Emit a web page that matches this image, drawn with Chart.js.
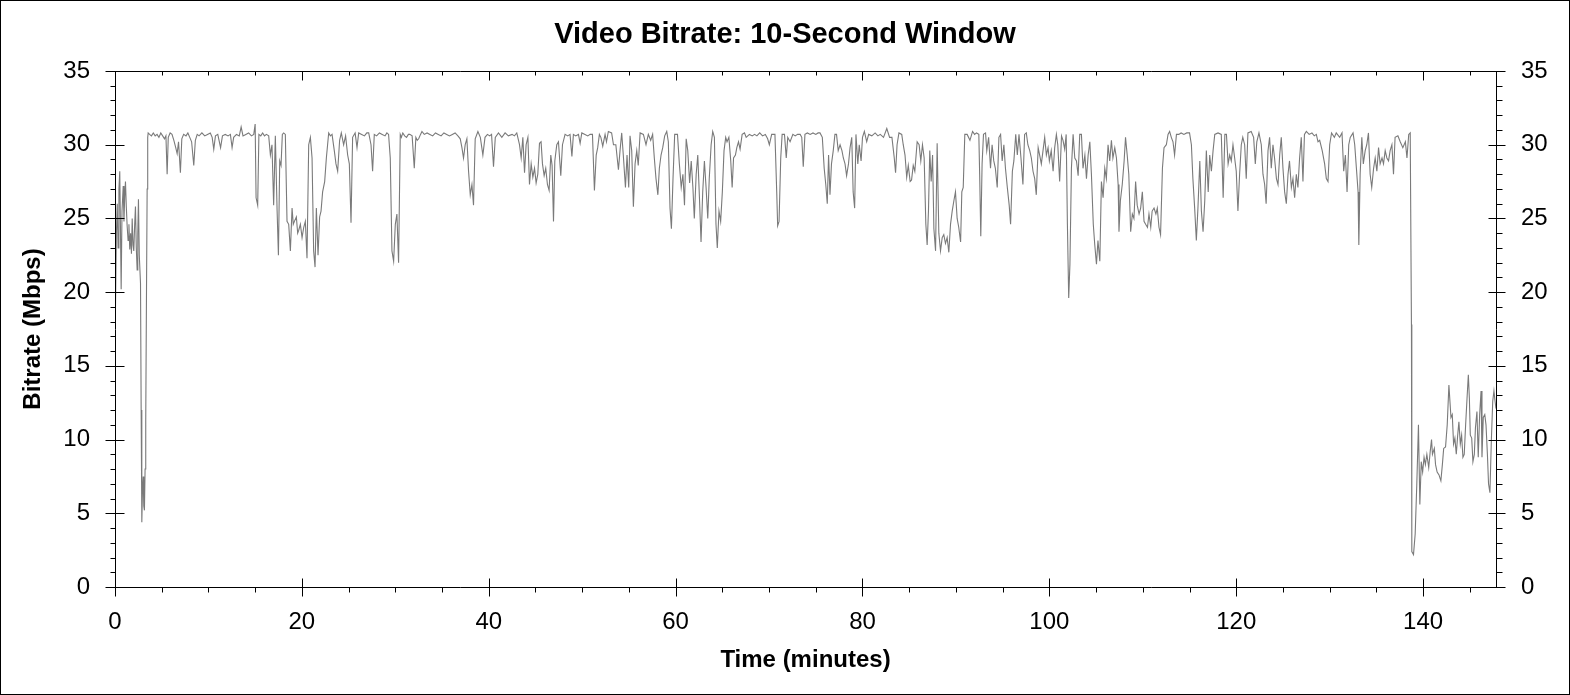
<!DOCTYPE html>
<html>
<head>
<meta charset="utf-8">
<script src="https://cdn.jsdelivr.net/npm/chart.js@4.4.1/dist/chart.umd.min.js"></script>
<style>
  html, body { margin: 0; padding: 0; background: #fff; }
  #c { display: block; }
</style>
</head>
<body>
<canvas id="c" width="1570" height="695" style="width:1570px;height:695px"></canvas>
<script>
// ---- Data (minutes, Mbps) ----
const tA = [0.00,0.05,0.15,0.24,0.33,0.42,0.51,0.58,0.66,0.75,
  0.88,0.96,1.04,1.12,1.21,1.30,1.40,1.49,1.58,1.67,
  1.76,1.84,1.93,2.01,2.10,2.19,2.28,2.37,2.44,2.51,
  2.60,2.73,2.80,2.87,2.94,3.02,3.08,3.15,3.22,3.29,
  3.37,3.44,3.50,3.55];
const vA = [19.5,18.9,24.0,26.0,23.0,27.0,28.2,24.5,20.2,25.5,
  27.2,24.8,26.5,27.5,25.8,24.5,23.5,24.6,22.9,24.0,
  22.6,25.0,23.2,22.8,24.5,25.8,23.0,21.5,24.0,26.3,
  22.5,20.6,12.0,4.4,6.5,7.5,5.5,5.2,8.0,11.3,
  20.0,27.0,30.5,30.8];

const tA2 = [3.7,3.9,4.1,4.3,4.5,4.7,4.9,5.1,5.3,5.45,
  5.58,5.7,5.9,6.1,6.3,6.5,6.65,6.8,7.0,7.15,
  7.35,7.6,7.8,8.0,8.2,8.43,8.6,8.8,9.0,9.3,
  9.6,9.9,10.2,10.4,10.57,10.75,11.0,11.3,11.5,11.8,
  12.1,12.35,12.53,12.7,13.0,13.3,13.5,13.7,14.0,14.3,
  14.6,14.85,15.0,15.1,15.27,15.4,15.6,15.8,16.0,16.2,
  16.45];
const vA2 = [30.7,30.6,30.8,30.6,30.7,30.5,30.8,30.6,30.4,30.6,
  28.0,30.5,30.8,30.7,30.3,29.8,29.4,30.2,28.1,30.4,
  30.7,30.6,30.8,30.5,30.2,28.6,30.3,30.7,30.6,30.8,
  30.6,30.7,30.8,30.5,29.7,30.6,30.7,29.8,30.6,30.7,
  30.6,30.7,29.8,30.5,30.7,30.6,31.2,30.6,30.7,30.8,
  30.6,30.7,31.4,26.4,25.9,30.7,30.6,30.8,30.6,30.7,
  30.6];

const tB = [16.63,16.8,16.98,17.16,17.35,17.49,17.63,17.77,17.91,18.05,
  18.23,18.41,18.59,18.77,18.95,19.08,19.2,19.41,19.55,19.66,
  19.84,20.02,20.2,20.37,20.55,20.73,20.91,21.09,21.26,21.41,
  21.55,21.73,21.9,22.05,22.22,22.44,22.62,22.87,23.05,23.23,
  23.47,23.65,23.83,24.04,24.22,24.47,24.68,24.9,25.08,25.26,
  25.43,25.7,25.9,26.08,26.4,26.7,26.95,27.15,27.4,27.57,
  27.75,28.0,28.3,28.6,28.9,29.1,29.28,29.46,29.64,29.82,
  30.0,30.17,30.35,30.53,30.65,30.8,31.0,31.2,31.4,31.55,
  31.8,32.03,32.2,32.35,32.5,32.7,32.85,33.1,33.4,33.7,
  34.0,34.3,34.6,34.9,35.2,35.5,35.8,36.1,36.4,36.7];
const vB = [29.3,30.0,25.9,30.6,25.5,22.5,28.9,28.6,30.7,30.8,
  30.7,24.8,24.6,22.8,25.7,24.6,24.8,25.1,24.0,24.2,
  24.6,23.7,24.4,24.8,22.3,30.0,30.5,29.1,22.8,21.7,
  25.7,22.5,25.1,25.5,26.8,27.5,29.1,30.8,30.6,30.7,
  29.6,28.7,28.2,30.3,30.8,30.0,30.6,29.3,28.7,24.7,
  30.5,30.8,29.8,30.8,30.7,30.6,30.8,30.8,30.0,28.2,
  30.7,30.6,30.8,30.7,30.6,30.8,30.7,29.1,22.8,22.1,
  24.6,25.3,22.0,30.7,30.5,30.8,30.6,30.5,30.7,30.7,
  30.6,28.4,30.5,30.3,30.4,30.7,30.9,30.7,30.8,30.7,
  30.6,30.8,30.7,30.6,30.8,30.7,30.6,30.7,30.8,30.6];

const tC = [36.95,37.13,37.3,37.48,37.66,37.84,38.02,38.2,38.37,38.55,
  38.84,39.1,39.37,39.6,39.86,40.1,40.3,40.51,40.7,41.04,
  41.4,41.75,42.1,42.5,42.75,43.0,43.29,43.47,43.65,43.83,
  44.0,44.19,44.36,44.54,44.72,44.9,45.07,45.25,45.43,45.6,
  45.75,45.93,46.1,46.28,46.46,46.64,46.78,46.93,47.07,47.28,
  47.46,47.71,47.89,48.17,48.45,48.7,48.9,49.06,49.3,49.6,
  49.78,49.96,50.3,50.6,50.85,51.1,51.31];
const vC = [30.4,29.8,29.1,30.0,30.4,28.2,26.6,27.3,25.9,30.4,
  30.9,30.5,29.3,30.5,30.7,30.6,30.7,28.5,30.5,30.8,
  30.5,30.8,30.6,30.7,30.6,30.8,30.0,29.1,30.5,28.1,
  30.0,30.5,27.3,28.7,27.8,28.4,27.4,28.0,30.1,30.2,
  28.7,27.9,28.4,27.3,26.9,29.3,28.6,24.8,28.9,30.0,
  30.2,27.9,30.0,30.7,30.6,30.7,29.2,30.7,30.6,30.7,
  30.1,30.8,30.7,30.6,30.7,30.7,26.9];

const tD = [51.5,51.66,51.84,52.0,52.2,52.45,52.6,52.8,53.15,53.35,
  53.6,53.88,54.05,54.23,54.4,54.63,54.8,54.98,55.12,55.3,
  55.48,55.66,55.84,56.0,56.2,56.55,56.83,57.08,57.33,57.54,
  57.72,57.9,58.1,58.26,58.44,58.62,58.83,59.05,59.22,59.4,
  59.55,59.72,59.9,60.2,60.4,60.6,60.78,60.95,61.13,61.3,
  61.5,61.67,61.85,62.0,62.2,62.37,62.55,62.72,62.9,63.08,
  63.26,63.44,63.6,63.8,63.97,64.15,64.32,64.46,64.64,64.82,
  65.0,65.18,65.36,65.5,65.7,65.9,66.05,66.2,66.4,66.55,
  66.73,66.9,67.12,67.37,67.55,67.9,68.2,68.45,68.7,69.0,
  69.3,69.6,69.85];
const vD = [29.3,29.8,30.7,30.5,29.9,30.7,30.2,30.9,30.8,30.0,
  30.0,28.3,29.6,30.8,29.3,27.1,29.3,27.1,30.6,29.6,
  25.8,28.7,29.6,28.6,30.8,30.7,30.0,30.7,30.3,30.7,
  29.1,27.7,26.6,28.4,29.3,29.8,30.6,30.9,30.2,25.7,
  24.3,27.7,30.7,30.7,28.7,27.1,28.0,25.9,30.4,29.6,
  27.4,28.9,27.1,25.0,28.0,29.3,26.4,23.4,26.8,28.9,
  27.1,25.0,27.7,30.0,30.9,30.5,24.6,23.0,25.5,24.8,
  26.8,29.6,30.5,30.2,30.5,28.9,27.1,29.1,29.3,29.8,
  30.2,29.7,30.7,30.8,30.5,30.7,30.6,30.7,30.6,30.8,
  30.6,30.7,30.4];

const tE = [70.03,70.28,70.63,70.82,70.92,71.07,71.25,71.4,71.65,71.84,
  72.0,72.25,72.55,72.8,73.05,73.33,73.5,73.66,73.84,74.1,
  74.4,74.7,75.0,75.25,75.45,75.7,75.9,76.07,76.23,76.37,
  76.52,76.68,76.87,77.05,77.22,77.4,77.6,77.8,77.95,78.13,
  78.3,78.5,78.67,78.85,79.0,79.16,79.3,79.5,79.65,79.85,
  80.0,80.2,80.45,80.66,81.0,81.35,81.65,81.9,82.25,82.6,
  82.9,83.15,83.4,83.54,83.7,83.9,84.2,84.36,84.55,84.73,
  84.9,85.1,85.25,85.43,85.6];
const vE = [30.0,30.7,30.7,26.8,24.5,24.8,29.1,30.7,30.7,29.1,
  30.5,30.2,30.7,30.6,30.7,30.7,30.5,28.5,30.7,30.8,
  30.7,30.8,30.7,30.8,30.8,30.5,28.4,27.3,26.0,29.3,
  26.6,28.7,29.6,30.7,30.7,29.6,30.0,29.6,29.1,28.7,
  27.9,28.7,29.8,30.5,26.8,25.7,30.7,28.7,30.0,28.9,
  30.5,30.9,30.2,30.7,30.6,30.8,30.6,30.7,30.5,31.1,
  30.5,30.5,29.1,28.1,30.0,30.8,30.7,30.0,29.3,27.8,
  28.6,27.5,27.6,28.6,28.2];

const tF = [85.85,86.06,86.24,86.42,86.6,86.78,86.92,87.06,87.2,87.35,
  87.5,87.64,87.82,87.99,88.17,88.35,88.53,88.7,88.88,89.06,
  89.24,89.42,89.6,89.78,89.95,90.13,90.3,90.5,90.63,90.78,
  90.95,91.2,91.5,91.78,92.0,92.2,92.45,92.54,92.66,92.8,
  92.95,93.17,93.3,93.5,93.7,93.87,94.05,94.22,94.42,94.6,
  94.78,94.95,95.13,95.3,95.5,95.7,95.85,96.04,96.2,96.4,
  96.57,96.75,96.96,97.17,97.35,97.53,97.7,97.9,98.07,98.25,
  98.43,98.6,98.8,98.96,99.14,99.32,99.5,99.68,99.86,100.0,
  100.2,100.4,100.57,100.75,100.9,101.1,101.3,101.46,101.64,101.8,
  101.93,102.07,102.2,102.36,102.54];
const vF = [30.2,30.0,28.9,30.0,29.1,24.6,23.2,25.5,29.6,27.5,
  29.3,24.3,22.8,30.1,24.0,22.8,23.7,23.9,23.3,23.7,
  22.7,24.6,25.5,26.2,26.8,25.0,24.4,23.4,26.8,27.1,
  30.7,30.7,30.3,30.9,30.7,30.8,30.7,28.0,23.8,28.7,
  30.7,30.8,29.6,30.5,28.4,30.0,28.9,28.4,27.1,30.5,
  30.7,28.9,30.0,28.4,27.1,25.9,24.6,28.2,28.9,30.7,
  29.3,30.7,29.1,27.3,30.7,30.8,30.0,29.6,29.1,28.2,
  27.7,26.6,29.8,29.3,28.7,29.6,30.5,29.3,29.8,28.9,
  29.6,28.2,29.8,30.7,30.0,27.5,30.6,30.3,29.7,30.7,
  24.6,19.6,21.9,28.4,30.7];

const tG = [102.72,102.9,103.08,103.25,103.43,103.6,103.8,103.97,104.15,104.33,
  104.5,104.7,104.86,105.04,105.2,105.4,105.57,105.75,105.93,106.1,
  106.28,106.46,106.64,106.8,107.0,107.18,107.36,107.45,107.6,107.8,
  108.0,108.15,108.33,108.5,108.7,108.88,109.05,109.23,109.4,109.6,
  109.77,109.95,110.13,110.3,110.5,110.66,110.85,111.0,111.2,111.4,
  111.55,111.73,111.9,112.1,112.27,112.52,112.7,112.87,113.05,113.23,
  113.4,113.6,113.85,114.1,114.4,114.7,115.0,115.2,115.36,115.55,
  115.73,115.9,116.1,116.27,116.45,116.63,116.8,117.0,117.16,117.34,
  117.52,117.7,118.05,118.4,118.6,118.78,118.95,119.13];
const vG = [29.1,28.9,27.9,30.7,30.7,28.4,29.3,27.7,29.3,30.2,
  28.0,24.6,23.2,21.9,23.5,22.1,27.5,26.4,28.4,27.7,
  30.0,28.9,30.3,29.1,29.8,29.1,27.3,24.1,26.2,27.3,
  28.9,30.5,29.3,28.0,24.1,25.3,25.0,27.5,25.9,25.3,
  25.7,26.8,24.8,24.6,24.4,25.3,24.4,25.5,25.7,25.3,
  25.7,24.4,23.9,28.4,29.8,30.0,30.7,30.9,30.5,30.2,
  29.3,30.7,30.7,30.8,30.7,30.8,30.8,30.0,27.7,25.7,
  23.5,25.7,28.9,25.5,24.1,26.2,29.6,26.8,29.3,28.2,
  29.6,30.7,30.8,30.7,26.4,30.7,30.7,28.7];

const tH = [119.3,119.47,119.65,119.83,120.0,120.18,120.36,120.54,120.7,120.9,
  121.07,121.25,121.6,121.86,122.04,122.2,122.43,122.68,122.86,123.04,
  123.2,123.4,123.57,123.75,123.93,124.1,124.3,124.47,124.65,124.82,
  125.0,125.18,125.36,125.54,125.7,125.9,126.07,126.25,126.43,126.6,
  126.78,126.96,127.14,127.3,127.5,127.8,128.1,128.35,128.57,128.75,
  128.93,129.2,129.46,129.64,129.82,130.0,130.2,130.5,130.7,131.07,
  131.32,131.5,131.68,131.86,132.04,132.2,132.5,132.68,132.86,133.04,
  133.12,133.26,133.44,133.6,133.8,133.97,134.15,134.33,134.5,134.7,
  134.87,135.05,135.23,135.4,135.6,135.76,135.94,136.12,136.3,136.47,
  136.66,136.83,137.0,137.3,137.55,137.83,138.1,138.27,138.46,138.62,
  138.7];
const vH = [29.3,28.9,30.0,29.1,28.2,25.5,28.0,30.0,30.5,30.0,
  27.7,30.8,30.9,30.5,28.7,30.2,30.8,30.0,28.0,27.3,
  26.0,29.6,30.5,28.4,30.0,29.1,27.7,27.3,29.3,30.5,
  28.4,26.8,26.0,28.0,28.9,27.1,27.7,26.4,28.0,27.1,
  29.1,30.5,27.5,30.7,30.9,30.7,30.8,30.6,30.7,30.2,
  30.3,29.6,28.7,27.7,27.5,30.0,30.8,30.5,30.8,30.5,
  30.8,28.2,29.3,26.8,30.0,30.5,30.8,30.0,28.4,26.8,
  23.2,28.0,30.5,28.7,29.6,30.0,30.8,28.0,27.1,28.4,
  29.1,28.2,29.8,28.7,29.1,28.7,29.6,29.1,28.9,29.6,
  30.0,28.0,30.5,30.6,30.2,29.8,30.2,29.1,30.7,30.8,
  30.8];

const tI = [138.75,138.79,138.97,139.15,139.32,139.43,139.5,139.65,139.8,139.95,
  140.1,140.24,140.4,140.6,140.76,140.9,141.0,141.2,141.33,141.5,
  141.7,141.9,142.06,142.2,142.4,142.58,142.76,142.87,142.98,143.12,
  143.26,143.4,143.55,143.7,143.83,143.98,144.12,144.26,144.4,144.55,
  144.7,144.84,144.95,145.05,145.2,145.33,145.48,145.6,145.76,145.9,
  146.05,146.2,146.3,146.44,146.6,146.73,146.88,147.0,147.15,147.3,
  147.45,147.58,147.7,147.8];
const vI = [17.8,2.4,2.2,3.6,6.9,9.4,11.0,5.6,8.5,7.8,
  8.8,8.3,9.0,8.1,9.2,10.0,9.0,9.4,8.3,7.8,
  7.6,7.2,8.3,9.4,9.5,11.0,13.7,12.6,11.5,11.7,
  9.7,10.1,9.0,10.3,11.2,9.7,10.3,8.8,9.0,11.0,
  12.8,14.4,12.8,10.3,10.1,8.5,9.0,10.8,11.9,8.8,
  11.7,13.3,8.8,11.5,11.7,11.0,9.0,7.0,6.4,9.9,
  12.6,13.3,12.6,12.1];

const yTickValues = [0, 5, 10, 15, 20, 25, 30, 35];
const xTickValues = [0, 20, 40, 60, 80, 100, 120, 140];
const titleText = 'Video Bitrate: 10-Second Window';
const xTitle = 'Time (minutes)';
const yTitle = 'Bitrate (Mbps)';

// ---- Build points ----
const timeSegs = [tA, tA2, tB, tC, tD, tE, tF, tG, tH, tI];
const valSegs  = [vA, vA2, vB, vC, vD, vE, vF, vG, vH, vI];
const points = [];
timeSegs.forEach((ts, i) => {
  if (ts.length !== valSegs[i].length) console.warn('length mismatch seg', i);
  ts.forEach((t, j) => { if (valSegs[i][j] !== undefined) points.push({ x: t, y: valSegs[i][j] }); });
});

const FONT = 'Arial, "Liberation Sans", Helvetica, sans-serif';
Chart.defaults.font.family = FONT;
Chart.defaults.color = '#000';

const frame = {
  id: 'frame',
  beforeDraw(chart) {
    const { ctx, width, height } = chart;
    ctx.save();
    ctx.fillStyle = '#fff';
    ctx.fillRect(0, 0, width, height);
    ctx.strokeStyle = '#000';
    ctx.lineWidth = 1;
    ctx.strokeRect(0.5, 0.5, width - 1, height - 1);
    ctx.restore();
  },
  afterDraw(chart) {
    const { ctx, chartArea: a, scales } = chart;
    const xs = scales.x, ys = scales.y;
    const L = Math.round(a.left) + 0.5, R = Math.round(a.right) + 0.5;
    const T = Math.round(a.top) + 0.5, B = Math.round(a.bottom) + 0.5;
    ctx.save();
    ctx.strokeStyle = '#000';
    ctx.lineWidth = 1;
    ctx.beginPath();
    ctx.rect(L, T, R - L, B - T);
    // y ticks
    for (let v = 0; v <= 35; v++) {
      const py = Math.round(ys.getPixelForValue(v)) + 0.5;
      if (v % 5 === 0) {
        ctx.moveTo(L - 10, py); ctx.lineTo(L + 9, py);
        ctx.moveTo(R - 8, py); ctx.lineTo(R + 9, py);
      } else {
        ctx.moveTo(L - 5, py); ctx.lineTo(L, py);
        ctx.moveTo(R, py); ctx.lineTo(R + 6, py);
      }
    }
    // x ticks
    for (let m = 0; m <= 145; m += 5) {
      const px = Math.round(xs.getPixelForValue(m)) + 0.5;
      if (m % 20 === 0) {
        ctx.moveTo(px, B - 9); ctx.lineTo(px, B + 9);
        ctx.moveTo(px, T); ctx.lineTo(px, T + 9);
      } else {
        ctx.moveTo(px, B); ctx.lineTo(px, B + 5);
        ctx.moveTo(px, T); ctx.lineTo(px, T + 4);
      }
    }
    ctx.stroke();
    ctx.restore();
  }
};

const tickFont = { family: FONT, size: 24 };
const titleFont = { family: FONT, size: 24, weight: 'bold' };

new Chart(document.getElementById('c'), {
  type: 'line',
  data: {
    datasets: [{
      data: points,
      borderColor: '#7a7a7a',
      borderWidth: 1.1,
      pointRadius: 0,
      tension: 0,
      fill: false
    }]
  },
  options: {
    responsive: false,
    animation: false,
    devicePixelRatio: 1,
    layout: { padding: 0 },
    plugins: {
      legend: { display: false },
      tooltip: { enabled: false },
      title: {
        display: true,
        text: titleText,
        color: '#000',
        font: { family: FONT, size: 29, weight: 'bold' },
        padding: { top: 17.5, bottom: 18.7 }
      }
    },
    scales: {
      x: {
        type: 'linear',
        position: 'bottom',
        min: 0,
        max: 147.8,
        afterFit(s) { s.height = 108; },
        afterBuildTicks(s) { s.ticks = xTickValues.map(v => ({ value: v })); },
        grid: { display: false, drawTicks: false },
        border: { display: false },
        ticks: { stepSize: 20, padding: 21, color: '#000', font: tickFont, maxRotation: 0, autoSkip: false },
        title: { display: true, text: xTitle, color: '#000', font: titleFont, padding: { top: 0, bottom: 20 } }
      },
      y: {
        position: 'left',
        min: 0,
        max: 35,
        afterFit(s) { s.width = 115; },
        afterBuildTicks(s) { s.ticks = yTickValues.map(v => ({ value: v })); },
        grid: { display: false, drawTicks: false },
        border: { display: false },
        ticks: { stepSize: 5, padding: 25, color: '#000', font: tickFont },
        title: { display: true, text: yTitle, color: '#000', font: titleFont, padding: { top: 18.6, bottom: 0 } }
      },
      y2: {
        position: 'right',
        min: 0,
        max: 35,
        afterFit(s) { s.width = 74; },
        afterBuildTicks(s) { s.ticks = yTickValues.map(v => ({ value: v })); },
        grid: { display: false, drawTicks: false },
        border: { display: false },
        ticks: { stepSize: 5, padding: 25, color: '#000', font: tickFont }
      }
    }
  },
  plugins: [frame]
});
</script>
</body>
</html>
